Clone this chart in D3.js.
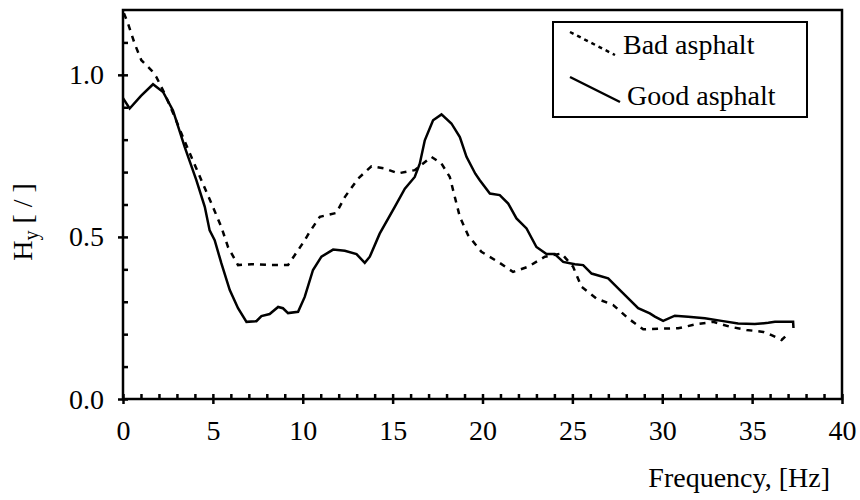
<!DOCTYPE html>
<html>
<head>
<meta charset="utf-8">
<script src="https://cdn.jsdelivr.net/npm/d3@7"></script>
<style>
  body { margin: 0; background: #fff; }
  text { font-family: "Liberation Serif", "Times New Roman", serif; fill: #000; }
</style>
</head>
<body>
<div id="app"></div>
<script>
// data
var freqBad = [0.05,0.28,0.65,1.02,1.58,1.86,2.32,2.88,3.25,3.8,4.36,4.92,5.47,5.84,6.4,7.14,8.26,9.18,9.74,10.11,10.39,10.95,11.87,12.34,13.08,13.82,14.56,15.3,16.23,17.16,17.72,18.18,18.46,18.74,19.2,19.94,20.87,21.7,22.54,23.47,24.4,25.04,25.51,26.34,27.27,28.1,28.94,29.96,30.89,31.91,32.83,33.76,34.69,35.62,36.08,36.64,36.92];
var hyBad = [1.19,1.158,1.096,1.045,1.014,0.993,0.942,0.87,0.819,0.747,0.675,0.603,0.531,0.469,0.413,0.416,0.413,0.413,0.459,0.49,0.516,0.562,0.574,0.623,0.68,0.718,0.711,0.696,0.706,0.747,0.726,0.685,0.623,0.562,0.505,0.454,0.423,0.392,0.408,0.439,0.449,0.408,0.346,0.31,0.29,0.249,0.215,0.217,0.218,0.231,0.238,0.223,0.213,0.207,0.197,0.182,0.197];

var freqGood = [0,0.37,1.0,1.67,2.23,2.78,3.43,4.08,4.55,4.82,5.1,5.47,5.94,6.4,6.87,7.42,7.7,8.16,8.63,8.9,9.18,9.74,10.11,10.57,11.04,11.69,12.34,12.99,13.45,13.73,14.28,15.12,15.68,16.23,16.51,16.79,17.25,17.72,18.27,18.74,19.11,19.6,19.85,20.41,20.96,21.43,21.89,22.45,23.0,23.56,24.02,24.49,25.14,25.6,26.07,26.99,27.73,28.66,29.31,29.59,30.05,30.7,31.44,32.37,33.3,34.22,35.15,35.9,36.27,37.28,37.3];
var hyGood = [0.928,0.896,0.935,0.971,0.947,0.89,0.778,0.675,0.593,0.52,0.49,0.419,0.336,0.28,0.238,0.24,0.256,0.262,0.284,0.28,0.265,0.269,0.315,0.398,0.439,0.461,0.457,0.447,0.42,0.439,0.51,0.593,0.649,0.685,0.726,0.798,0.86,0.878,0.85,0.808,0.747,0.695,0.675,0.634,0.629,0.603,0.557,0.526,0.469,0.447,0.447,0.423,0.416,0.413,0.387,0.372,0.331,0.28,0.264,0.254,0.241,0.257,0.254,0.249,0.241,0.233,0.231,0.235,0.238,0.238,0.219];

var xMajor = [0,5,10,15,20,25,30,35,40];
var xMinor = d3.range(0, 41, 1);
var yMajor = [0,0.5,1.0];
var yMinor = [0,0.1,0.2,0.3,0.4,0.5,0.6,0.7,0.8,0.9,1.0,1.1];
var seriesNames = ["Bad asphalt","Good asphalt"];

var W = 860, H = 500;
var mLeft = 123, mRight = 842, mTop = 10, mBottom = 399;

var svg = d3.select('#app').append('svg')
    .attr('width', W).attr('height', H);

var x = d3.scaleLinear().domain([0,40]).range([mLeft,mRight]);
var y = d3.scaleLinear().domain([0,1.2]).range([mBottom,mTop]);

// frame
svg.append('rect')
    .attr('x', mLeft).attr('y', mTop)
    .attr('width', mRight-mLeft).attr('height', mBottom-mTop)
    .attr('fill','none').attr('stroke','#000').attr('stroke-width',2.5);

// x axis: major ticks crossing, minor ticks inward
var gx = svg.append('g')
    .attr('transform','translate(0,'+mBottom+')')
    .call(d3.axisBottom(x).tickValues(xMajor).tickSize(5).tickFormat(d3.format('d')));
gx.select('.domain').remove();
gx.selectAll('line').attr('stroke-width',2.5);
gx.selectAll('text').attr('dy',null).attr('y',41).attr('font-size',28)
    .attr('font-family','Liberation Serif').attr('fill','#000');

var gxi = svg.append('g')
    .attr('transform','translate(0,'+mBottom+')')
    .call(d3.axisBottom(x).tickValues(xMinor).tickSize(-5).tickFormat(''));
gxi.select('.domain').remove();
gxi.selectAll('line').attr('stroke-width',2.5);

// y axis
var gy = svg.append('g')
    .attr('transform','translate('+mLeft+',0)')
    .call(d3.axisLeft(y).tickValues(yMajor).tickSize(5).tickFormat(d3.format('.1f')));
gy.select('.domain').remove();
gy.selectAll('line').attr('stroke-width',2.5);
gy.selectAll('text').attr('dy',null).attr('x',-19).attr('y',9).attr('font-size',28)
    .attr('font-family','Liberation Serif').attr('fill','#000');

var gyi = svg.append('g')
    .attr('transform','translate('+mLeft+',0)')
    .call(d3.axisLeft(y).tickValues(yMinor).tickSize(-5).tickFormat(''));
gyi.select('.domain').remove();
gyi.selectAll('line').attr('stroke-width',2.5);

// lines
var line = d3.line().x(function(d){return x(d[0])}).y(function(d){return y(d[1])});

svg.append('path')
    .datum(d3.zip(freqBad, hyBad))
    .attr('d', line)
    .attr('fill','none').attr('stroke','#000').attr('stroke-width',2.5)
    .attr('stroke-dasharray','6,6');

svg.append('path')
    .datum(d3.zip(freqGood, hyGood))
    .attr('d', line)
    .attr('fill','none').attr('stroke','#000').attr('stroke-width',2.5);

// axis titles
svg.append('text')
    .attr('x',830).attr('y',487)
    .attr('text-anchor','end').attr('font-size',28)
    .text('Frequency, [Hz]');

var yt = svg.append('text')
    .attr('transform','translate(32,222) rotate(-90)')
    .attr('text-anchor','middle').attr('font-size',28);
yt.append('tspan').text('H');
yt.append('tspan').attr('font-size',20).attr('dy',6).text('y');
yt.append('tspan').attr('dy',-6).text(' [ / ]');

// legend
var lg = svg.append('g');
lg.append('rect')
    .attr('x',553).attr('y',22).attr('width',254).attr('height',95)
    .attr('fill','#fff').attr('stroke','#000').attr('stroke-width',2);
lg.append('line')
    .attr('x1',570).attr('y1',32).attr('x2',615).attr('y2',55)
    .attr('stroke','#000').attr('stroke-width',2.5).attr('stroke-dasharray','4,4');
lg.append('line')
    .attr('x1',570).attr('y1',77).attr('x2',620).attr('y2',102)
    .attr('stroke','#000').attr('stroke-width',2.5);
lg.append('text').attr('x',623).attr('y',54).attr('font-size',28).text(seriesNames[0]);
lg.append('text').attr('x',627).attr('y',105).attr('font-size',28).text(seriesNames[1]);
</script>
</body>
</html>
